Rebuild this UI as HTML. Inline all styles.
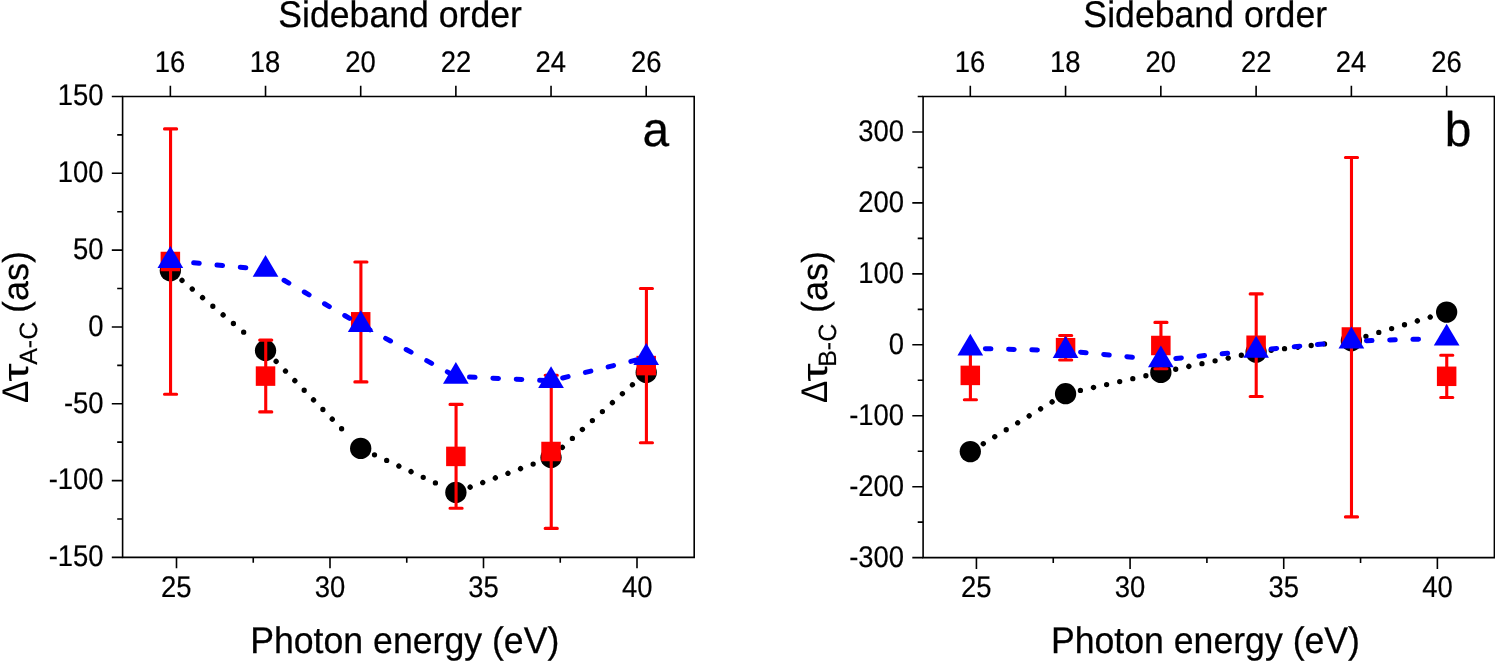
<!DOCTYPE html>
<html><head><meta charset="utf-8"><title>Sideband delays</title>
<style>
html,body{margin:0;padding:0;background:#fff;}
body{width:1495px;height:661px;overflow:hidden;}
svg{display:block;font-family:'Liberation Sans',Arial,sans-serif;fill:#000;}
text{text-rendering:geometricPrecision;}
</style></head><body>
<svg width="1495" height="661" viewBox="0 0 1495 661">
<rect width="1495" height="661" fill="#fff"/>
<g>
<path d="M182.00 280.37L182.01 280.38M192.28 289.00L192.29 289.01M202.56 297.63L202.57 297.64M212.84 306.26L212.84 306.27M223.11 314.89L223.12 314.90M233.39 323.52L233.40 323.52M243.67 332.15L243.68 332.15M276.12 361.40L276.13 361.41M285.48 371.02L285.49 371.03M294.83 380.64L294.84 380.65M304.19 390.27L304.19 390.27M313.54 399.89L313.55 399.90M322.90 409.51L322.90 409.52M332.25 419.13L332.26 419.14M341.60 428.76L341.61 428.76M374.50 454.78L374.51 454.78M386.68 460.41L386.69 460.41M398.86 466.04L398.87 466.05M411.04 471.67L411.05 471.68M423.22 477.31L423.23 477.31M435.40 482.94L435.41 482.94M470.14 487.17L470.15 487.16M482.74 482.55L482.75 482.54M495.34 477.93L495.35 477.92M507.94 473.31L507.95 473.30M520.54 468.69L520.55 468.68M533.14 464.06L533.15 464.06M562.37 447.37L562.38 447.36M572.37 438.42L572.38 438.42M582.38 429.48L582.39 429.47M592.38 420.53L592.39 420.53M602.39 411.59L602.39 411.58M612.39 402.64L612.40 402.63M622.39 393.70L622.40 393.69M632.40 384.75L632.41 384.74" fill="none" stroke="#000" stroke-width="5.30" stroke-linecap="round"/>
<circle cx="170.36" cy="270.60" r="10.65" fill="#000"/>
<circle cx="265.53" cy="350.50" r="10.65" fill="#000"/>
<circle cx="360.70" cy="448.40" r="10.65" fill="#000"/>
<circle cx="455.87" cy="492.40" r="10.65" fill="#000"/>
<circle cx="551.04" cy="457.50" r="10.65" fill="#000"/>
<circle cx="646.21" cy="372.40" r="10.65" fill="#000"/>
<path d="M170.56 128.90V394.30M164.51 128.90h12.10M164.51 394.30h12.10" fill="none" stroke="#f00" stroke-width="3.10" stroke-linecap="round"/>
<rect x="160.61" y="251.75" width="19.50" height="19.50" fill="#f00"/>
<path d="M265.73 340.10V411.90M259.68 340.10h12.10M259.68 411.90h12.10" fill="none" stroke="#f00" stroke-width="3.10" stroke-linecap="round"/>
<rect x="255.78" y="366.35" width="19.50" height="19.50" fill="#f00"/>
<path d="M360.90 262.06V381.90M354.85 262.06h12.10M354.85 381.90h12.10" fill="none" stroke="#f00" stroke-width="3.10" stroke-linecap="round"/>
<rect x="350.95" y="312.05" width="19.50" height="19.50" fill="#f00"/>
<path d="M456.07 404.40V508.30M450.02 404.40h12.10M450.02 508.30h12.10" fill="none" stroke="#f00" stroke-width="3.10" stroke-linecap="round"/>
<rect x="446.12" y="446.65" width="19.50" height="19.50" fill="#f00"/>
<path d="M551.24 375.30V528.40M545.19 375.30h12.10M545.19 528.40h12.10" fill="none" stroke="#f00" stroke-width="3.10" stroke-linecap="round"/>
<rect x="541.29" y="441.75" width="19.50" height="19.50" fill="#f00"/>
<path d="M646.41 288.50V442.80M640.36 288.50h12.10M640.36 442.80h12.10" fill="none" stroke="#f00" stroke-width="3.10" stroke-linecap="round"/>
<rect x="636.46" y="355.85" width="19.50" height="19.50" fill="#f00"/>
<polyline points="170.36,260.60 265.53,269.50 360.70,324.80 455.87,376.50 551.04,380.80 646.21,357.60" fill="none" stroke="#00f" stroke-width="5.00" stroke-linecap="round" stroke-dasharray="5.60 17.80"/>
<path d="M170.36 246.00L183.21 267.90L157.51 267.90Z" fill="#00f"/>
<path d="M265.53 254.90L278.38 276.80L252.68 276.80Z" fill="#00f"/>
<path d="M360.70 310.20L373.55 332.10L347.85 332.10Z" fill="#00f"/>
<path d="M455.87 361.90L468.72 383.80L443.02 383.80Z" fill="#00f"/>
<path d="M551.04 366.20L563.89 388.10L538.19 388.10Z" fill="#00f"/>
<path d="M646.21 343.00L659.06 364.90L633.36 364.90Z" fill="#00f"/>
<path d="M122.60 96.50H694.20V557.40H122.60Z" fill="none" stroke="#000" stroke-width="1.60" stroke-linejoin="miter"/>
<path d="M170.36 96.50v-10.80M265.53 96.50v-10.80M360.70 96.50v-10.80M455.87 96.50v-10.80M551.04 96.50v-10.80M646.21 96.50v-10.80M176.50 557.40v10.80M330.00 557.40v10.80M483.50 557.40v10.80M637.00 557.40v10.80M253.25 557.40v5.40M406.75 557.40v5.40M560.25 557.40v5.40M122.60 96.50h-10.80M122.60 173.32h-10.80M122.60 250.13h-10.80M122.60 326.95h-10.80M122.60 403.76h-10.80M122.60 480.58h-10.80M122.60 557.39h-10.80M122.60 134.91h-5.40M122.60 211.73h-5.40M122.60 288.54h-5.40M122.60 365.36h-5.40M122.60 442.17h-5.40M122.60 518.99h-5.40" fill="none" stroke="#000" stroke-width="1.60"/>
<text transform="translate(154.70 71.70) scale(0.9450 1.0300)" font-size="29" stroke="#000" stroke-width="0.20">16</text>
<text transform="translate(249.87 71.70) scale(0.9450 1.0300)" font-size="29" stroke="#000" stroke-width="0.20">18</text>
<text transform="translate(345.32 71.70) scale(0.9450 1.0300)" font-size="29" stroke="#000" stroke-width="0.20">20</text>
<text transform="translate(440.66 71.70) scale(0.9450 1.0300)" font-size="29" stroke="#000" stroke-width="0.20">22</text>
<text transform="translate(535.52 71.70) scale(0.9450 1.0300)" font-size="29" stroke="#000" stroke-width="0.20">24</text>
<text transform="translate(630.90 71.70) scale(0.9450 1.0300)" font-size="29" stroke="#000" stroke-width="0.20">26</text>
<text transform="translate(161.05 597.20) scale(0.9450 1.0300)" font-size="29" stroke="#000" stroke-width="0.20">25</text>
<text transform="translate(314.69 597.20) scale(0.9450 1.0300)" font-size="29" stroke="#000" stroke-width="0.20">30</text>
<text transform="translate(468.22 597.20) scale(0.9450 1.0300)" font-size="29" stroke="#000" stroke-width="0.20">35</text>
<text transform="translate(621.90 597.20) scale(0.9450 1.0300)" font-size="29" stroke="#000" stroke-width="0.20">40</text>
<text transform="translate(57.83 105.41) scale(0.9450 1.0300)" font-size="29" stroke="#000" stroke-width="0.20">150</text>
<text transform="translate(57.83 182.22) scale(0.9450 1.0300)" font-size="29" stroke="#000" stroke-width="0.20">100</text>
<text transform="translate(73.11 259.03) scale(0.9450 1.0300)" font-size="29" stroke="#000" stroke-width="0.20">50</text>
<text transform="translate(88.32 335.85) scale(0.9450 1.0300)" font-size="29" stroke="#000" stroke-width="0.20">0</text>
<text transform="translate(63.93 412.66) scale(0.9450 1.0300)" font-size="29" stroke="#000" stroke-width="0.20">-50</text>
<text transform="translate(48.72 489.48) scale(0.9450 1.0300)" font-size="29" stroke="#000" stroke-width="0.20">-100</text>
<text transform="translate(48.72 566.29) scale(0.9450 1.0300)" font-size="29" stroke="#000" stroke-width="0.20">-150</text>
<text transform="translate(278.27 26.60) scale(0.9900 1.0300)" font-size="36" stroke="#000" stroke-width="0.25">Sideband order</text>
<text transform="translate(250.20 652.70) scale(0.9900 1.0300)" font-size="36" stroke="#000" stroke-width="0.25">Photon energy (eV)</text>
<text transform="translate(642.43 145.50) scale(0.9850 1.0000)" font-size="48.5" stroke="#000" stroke-width="0.30">a</text>
<text transform="translate(27.70 402.00) rotate(-90) translate(-1.00 0) scale(0.9300 1.0300)" font-size="36">Δ</text>
<text transform="translate(27.70 381.10) rotate(-90) translate(-0.70 0) scale(1.3000 1.0000)" font-size="36">τ</text>
<text transform="translate(36.80 364.80) rotate(-90) translate(-0.06 0) scale(1.0000 1.0000)" font-size="25" stroke="#000" stroke-width="0.20">A-C</text>
<text transform="translate(27.70 310.80) rotate(-90) translate(-2.25 0) scale(1.0000 1.0000)" font-size="36" stroke="#000" stroke-width="0.20">(as)</text>
</g>
<g>
<path d="M983.29 443.71L983.30 443.70M994.76 436.74L994.77 436.73M1006.23 429.77L1006.23 429.76M1017.69 422.80L1017.70 422.79M1029.16 415.83L1029.17 415.82M1040.63 408.86L1040.64 408.85M1052.10 401.89L1052.11 401.88M1080.40 390.38L1080.41 390.38M1093.50 387.46L1093.51 387.45M1106.60 384.53L1106.61 384.53M1119.69 381.60L1119.70 381.60M1132.79 378.67L1132.80 378.67M1145.89 375.74L1145.90 375.74M1175.71 369.23L1175.72 369.23M1188.83 366.44L1188.84 366.43M1201.96 363.64L1201.97 363.64M1215.08 360.84L1215.09 360.84M1228.21 358.05L1228.22 358.04M1241.33 355.25L1241.34 355.25M1271.20 350.29L1271.21 350.29M1284.53 348.70L1284.54 348.70M1297.85 347.11L1297.86 347.10M1311.18 345.51L1311.19 345.51M1324.50 343.92L1324.51 343.92M1365.94 336.33L1365.95 336.33M1378.79 332.47L1378.80 332.47M1391.64 328.61L1391.65 328.61M1404.50 324.75L1404.51 324.75M1417.35 320.90L1417.36 320.89M1430.20 317.04L1430.21 317.03" fill="none" stroke="#000" stroke-width="5.30" stroke-linecap="round"/>
<circle cx="970.30" cy="451.60" r="10.65" fill="#000"/>
<circle cx="1065.57" cy="393.70" r="10.65" fill="#000"/>
<circle cx="1160.84" cy="372.40" r="10.65" fill="#000"/>
<circle cx="1256.11" cy="352.10" r="10.65" fill="#000"/>
<circle cx="1351.38" cy="340.70" r="10.65" fill="#000"/>
<circle cx="1446.65" cy="312.10" r="10.65" fill="#000"/>
<path d="M970.40 351.00V399.80M964.35 351.00h12.10M964.35 399.80h12.10" fill="none" stroke="#f00" stroke-width="3.10" stroke-linecap="round"/>
<rect x="960.55" y="365.65" width="19.50" height="19.50" fill="#f00"/>
<path d="M1065.67 335.50V360.00M1059.62 335.50h12.10M1059.62 360.00h12.10" fill="none" stroke="#f00" stroke-width="3.10" stroke-linecap="round"/>
<rect x="1055.82" y="337.95" width="19.50" height="19.50" fill="#f00"/>
<path d="M1160.94 322.40V368.70M1154.89 322.40h12.10M1154.89 368.70h12.10" fill="none" stroke="#f00" stroke-width="3.10" stroke-linecap="round"/>
<rect x="1151.09" y="335.75" width="19.50" height="19.50" fill="#f00"/>
<path d="M1256.21 293.90V396.50M1250.16 293.90h12.10M1250.16 396.50h12.10" fill="none" stroke="#f00" stroke-width="3.10" stroke-linecap="round"/>
<rect x="1246.36" y="335.50" width="19.50" height="19.50" fill="#f00"/>
<path d="M1351.48 157.50V516.90M1345.43 157.50h12.10M1345.43 516.90h12.10" fill="none" stroke="#f00" stroke-width="3.10" stroke-linecap="round"/>
<rect x="1341.63" y="327.25" width="19.50" height="19.50" fill="#f00"/>
<path d="M1446.75 355.30V397.50M1440.70 355.30h12.10M1440.70 397.50h12.10" fill="none" stroke="#f00" stroke-width="3.10" stroke-linecap="round"/>
<rect x="1436.90" y="366.55" width="19.50" height="19.50" fill="#f00"/>
<path d="M985.35 348.68L990.94 348.82M1008.59 349.26L1014.19 349.41M1031.83 349.85L1037.43 349.99M1080.55 352.16L1086.12 352.71M1103.69 354.42L1109.26 354.97M1126.83 356.68L1132.40 357.22M1175.81 358.49L1181.39 357.93M1198.95 356.16L1204.52 355.60M1222.08 353.83L1227.65 353.27M1271.09 348.95L1276.66 348.42M1294.23 346.72L1299.81 346.18M1317.38 344.48L1322.95 343.95M1366.42 340.74L1372.02 340.57M1389.66 340.03L1395.26 339.86M1412.90 339.33L1418.50 339.16" fill="none" stroke="#00f" stroke-width="5.00" stroke-linecap="round"/>
<path d="M970.30 333.70L983.15 355.60L957.45 355.60Z" fill="#00f"/>
<path d="M1065.57 336.10L1078.42 358.00L1052.72 358.00Z" fill="#00f"/>
<path d="M1160.84 345.40L1173.69 367.30L1147.99 367.30Z" fill="#00f"/>
<path d="M1256.11 335.80L1268.96 357.70L1243.26 357.70Z" fill="#00f"/>
<path d="M1351.38 326.60L1364.23 348.50L1338.53 348.50Z" fill="#00f"/>
<path d="M1446.65 323.70L1459.50 345.60L1433.80 345.60Z" fill="#00f"/>
<path d="M923.10 96.50H1494.40V557.65H923.10Z" fill="none" stroke="#000" stroke-width="1.60" stroke-linejoin="miter"/>
<path d="M970.30 96.50v-10.80M1065.57 96.50v-10.80M1160.84 96.50v-10.80M1256.11 96.50v-10.80M1351.38 96.50v-10.80M1446.65 96.50v-10.80M976.43 557.65v11.40M1130.08 557.65v11.40M1283.73 557.65v11.40M1437.38 557.65v11.40M1053.25 557.65v5.40M1206.90 557.65v5.40M1360.55 557.65v5.40M923.10 131.97h-10.80M923.10 202.92h-10.80M923.10 273.86h-10.80M923.10 344.81h-10.80M923.10 415.76h-10.80M923.10 486.70h-10.80M923.10 557.65h-10.80M923.10 96.50h-5.40M923.10 167.44h-5.40M923.10 238.39h-5.40M923.10 309.34h-5.40M923.10 380.28h-5.40M923.10 451.23h-5.40M923.10 522.17h-5.40" fill="none" stroke="#000" stroke-width="1.60"/>
<text transform="translate(954.64 71.70) scale(0.9450 1.0300)" font-size="29" stroke="#000" stroke-width="0.20">16</text>
<text transform="translate(1049.91 71.70) scale(0.9450 1.0300)" font-size="29" stroke="#000" stroke-width="0.20">18</text>
<text transform="translate(1145.46 71.70) scale(0.9450 1.0300)" font-size="29" stroke="#000" stroke-width="0.20">20</text>
<text transform="translate(1240.90 71.70) scale(0.9450 1.0300)" font-size="29" stroke="#000" stroke-width="0.20">22</text>
<text transform="translate(1335.86 71.70) scale(0.9450 1.0300)" font-size="29" stroke="#000" stroke-width="0.20">24</text>
<text transform="translate(1431.34 71.70) scale(0.9450 1.0300)" font-size="29" stroke="#000" stroke-width="0.20">26</text>
<text transform="translate(960.98 597.20) scale(0.9450 1.0300)" font-size="29" stroke="#000" stroke-width="0.20">25</text>
<text transform="translate(1114.77 597.20) scale(0.9450 1.0300)" font-size="29" stroke="#000" stroke-width="0.20">30</text>
<text transform="translate(1268.45 597.20) scale(0.9450 1.0300)" font-size="29" stroke="#000" stroke-width="0.20">35</text>
<text transform="translate(1422.28 597.20) scale(0.9450 1.0300)" font-size="29" stroke="#000" stroke-width="0.20">40</text>
<text transform="translate(858.33 140.87) scale(0.9450 1.0300)" font-size="29" stroke="#000" stroke-width="0.20">300</text>
<text transform="translate(858.33 211.82) scale(0.9450 1.0300)" font-size="29" stroke="#000" stroke-width="0.20">200</text>
<text transform="translate(858.33 282.76) scale(0.9450 1.0300)" font-size="29" stroke="#000" stroke-width="0.20">100</text>
<text transform="translate(888.82 353.71) scale(0.9450 1.0300)" font-size="29" stroke="#000" stroke-width="0.20">0</text>
<text transform="translate(849.22 424.66) scale(0.9450 1.0300)" font-size="29" stroke="#000" stroke-width="0.20">-100</text>
<text transform="translate(849.22 495.60) scale(0.9450 1.0300)" font-size="29" stroke="#000" stroke-width="0.20">-200</text>
<text transform="translate(849.22 566.55) scale(0.9450 1.0300)" font-size="29" stroke="#000" stroke-width="0.20">-300</text>
<text transform="translate(1083.37 26.60) scale(0.9900 1.0300)" font-size="36" stroke="#000" stroke-width="0.25">Sideband order</text>
<text transform="translate(1050.90 652.70) scale(0.9900 1.0300)" font-size="36" stroke="#000" stroke-width="0.25">Photon energy (eV)</text>
<text transform="translate(1444.80 145.50) scale(0.9850 1.0000)" font-size="48.5" stroke="#000" stroke-width="0.30">b</text>
<text transform="translate(827.30 402.00) rotate(-90) translate(-1.00 0) scale(0.9300 1.0300)" font-size="36">Δ</text>
<text transform="translate(827.30 381.10) rotate(-90) translate(-0.70 0) scale(1.3000 1.0000)" font-size="36">τ</text>
<text transform="translate(836.40 364.80) rotate(-90) translate(-2.06 0) scale(1.0000 1.0000)" font-size="25" stroke="#000" stroke-width="0.20">B-C</text>
<text transform="translate(827.30 310.80) rotate(-90) translate(-2.25 0) scale(1.0000 1.0000)" font-size="36" stroke="#000" stroke-width="0.20">(as)</text>
</g>
</svg>
</body></html>
